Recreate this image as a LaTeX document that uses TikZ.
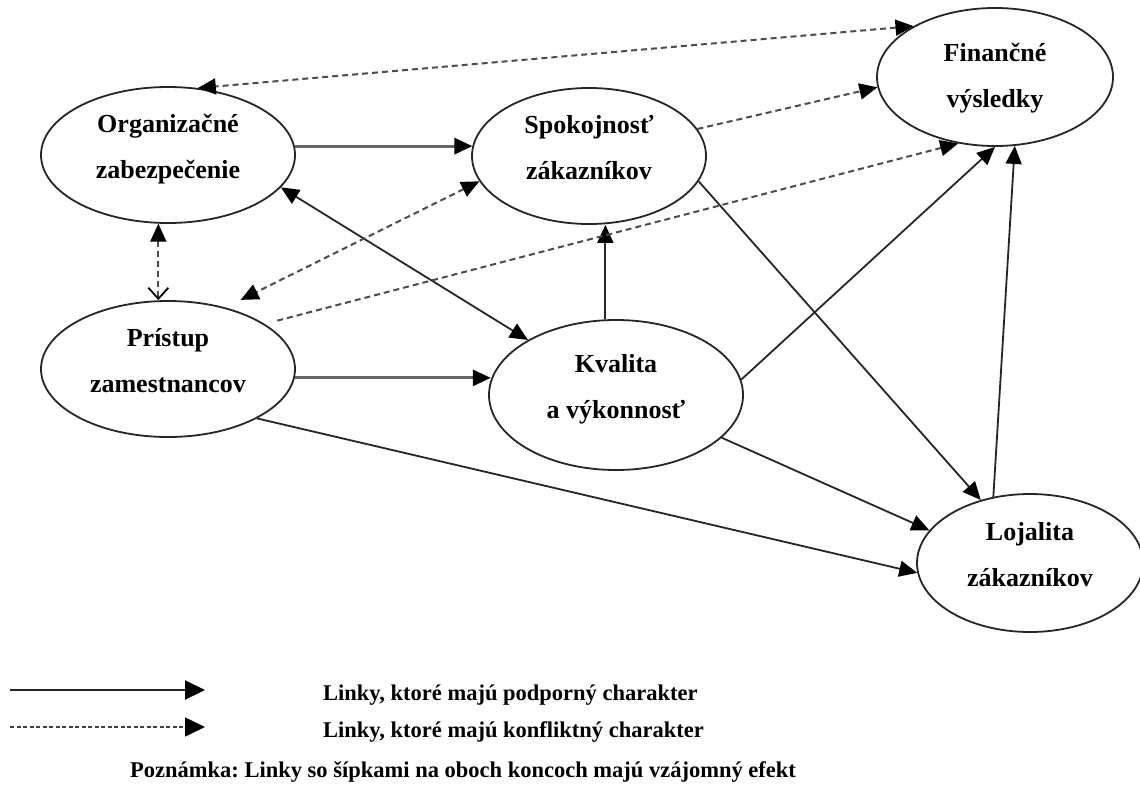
\documentclass[tikz,border=0pt]{standalone}
\usepackage{fontspec}
\setmainfont{Liberation Serif}
\usetikzlibrary{arrows.meta,shapes.geometric}
\frenchspacing

% line struts: equal height and depth keep the two baselines centred in the ellipse
\newcommand\lstrut{\rule[-19pt]{0pt}{38pt}}
\newcommand\lstruthi{\rule[-19pt]{0pt}{45pt}}

\begin{document}
\begin{tikzpicture}[x=1pt,y=-1pt,
  tri/.tip={Triangle[length=18pt,width=16pt,color=black]},
  bigtri/.tip={Triangle[length=20pt,width=19pt,color=black]},
  barb/.tip={Straight Barb[length=11pt,width=20pt,line width=1.8pt,color=black]},
  blob/.style={ellipse,draw=black!85,line width=1.8pt,inner sep=0pt,fill=white,
    font=\fontsize{26}{46}\selectfont\bfseries,align=center},
  support/.style={draw=black!85,line width=1.8pt},
  heavy/.style={draw=black!60,line width=3pt},
  conflict/.style={draw=black!70,line width=2pt,dash pattern=on 6pt off 4pt},
  legend/.style={font=\fontsize{22.5}{27}\selectfont\bfseries,inner sep=0pt,anchor=base west}
]
\useasboundingbox (0,0) rectangle (1140,803);
\fill[white] (0,0) rectangle (1140,803);

% the six constructs
\node[blob,minimum width=254pt,minimum height=136pt] (org)  at (168,155) {\lstrut Organizačné\\\lstrut zabezpečenie};
\node[blob,minimum width=234pt,minimum height=136pt] (spok) at (589,156) {\lstrut Spokojnosť\\\lstrut zákazníkov};
\node[blob,minimum width=236pt,minimum height=138pt] (fin)  at (995,77)  {\lstruthi Finančné\\\rule[-12pt]{0pt}{31pt}výsledky};
\node[blob,minimum width=254pt,minimum height=136pt] (pris) at (168,369) {\lstrut Prístup\\\lstrut zamestnancov};
\node[blob,minimum width=254pt,minimum height=150pt] (kval) at (616,395) {\lstrut Kvalita\\\lstrut a výkonnosť};
\node[blob,minimum width=226pt,minimum height=138pt] (loj)  at (1030,563) {\lstrut Lojalita\\\lstrut zákazníkov};

% supporting links
\draw[heavy,-tri] (org.4) -- (org.4 -| spok.175);
\draw[heavy,-tri] (pris.-4) -- (pris.-4 -| kval.173);
\draw[support,tri-tri] (org.-16) -- (kval.148);
\draw[support,-tri] (kval.98) -- (kval.98 |- spok.south);
\draw[support,-tri] (spok.-13) -- (loj.128);
\draw[support,-tri] (kval.7) -- (fin.-90);
\draw[support,-tri] (loj.119) -- (fin.-74);
\draw[support,-tri] (kval.-22) -- (loj.162);
\draw[support,-tri] (pris.-29) -- (loj.-175);

% conflicting links
\draw[conflict,tri-barb] (org.-98.5) -- (org.-98.5 |- pris.north);
\draw[conflict,tri-tri,shorten >=17pt] (spok.-167) -- (pris.47);
\draw[conflict,tri-tri] (fin.148) -- (org.66.5);
\draw[conflict,-tri] (spok.14) -- (fin.185);
\draw[conflict,-tri,shorten <=13pt] (pris.25) -- (fin.-119);

% legend
\coordinate (ls1) at (10,690);
\coordinate (le1) at (205,690);
\coordinate (ls2) at (10,727);
\coordinate (le2) at (205,727);
\draw[draw=black!85,line width=2.2pt,-bigtri] (ls1) -- (le1);
\draw[draw=black!75,line width=1.6pt,dash pattern=on 4pt off 2.5pt,-bigtri] (ls2) -- (le2);
\node[legend] (lg1) at (323,700) {Linky, ktoré majú podporný charakter};
\node[legend] (lg2) at (323,737) {Linky, ktoré majú konfliktný charakter};
\node[legend] (lg3) at (130,777) {Poznámka: Linky so šípkami na oboch koncoch majú vzájomný efekt};
\end{tikzpicture}
\end{document}
